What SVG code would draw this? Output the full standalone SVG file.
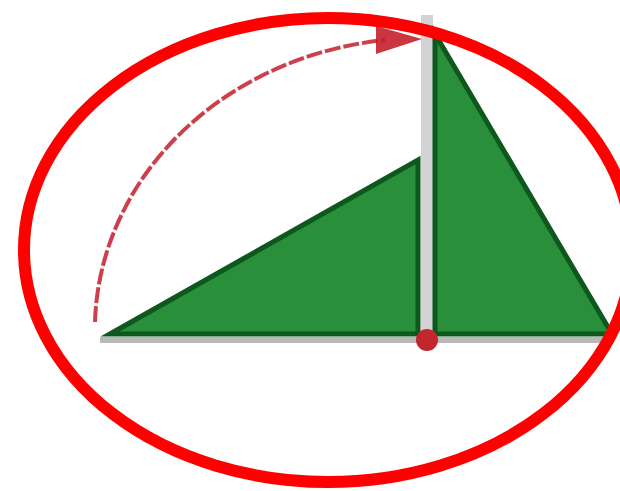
<svg xmlns="http://www.w3.org/2000/svg" width="620" height="491" viewBox="0 0 620 491">
<style>
.tri{fill:#2a8f3a;stroke:#0d581d;stroke-width:5;stroke-linejoin:miter}
.arc{fill:none;stroke:#c41f2b;stroke-width:4;stroke-dasharray:16 3;opacity:0.85}
</style>
<rect width="620" height="491" fill="#ffffff"/>
<g id="shadow">
<rect x="100" y="337" width="514" height="6" fill="#b9b9b9"/>
<rect x="421" y="15" width="12" height="322" fill="#d4d2d4"/>
</g>
<g id="left-triangle">
<polygon class="tri" points="110,334 418,160 418,334"/>
</g>
<g id="right-triangle">
<polygon class="tri" points="435,34 612,334 435,334"/>
</g>
<g id="connectors">
<path class="arc" d="M 95,322 A 328,292 0 0 1 385,40"/>
<polygon points="376,26 422,39 376,54" fill="#c41f2b" opacity="0.9"/>
</g>
<g id="pivot">
<circle cx="427" cy="340" r="11" fill="#c4262e"/>
</g>
<g id="ring">
<ellipse cx="328" cy="250" rx="304" ry="232" fill="none" stroke="#ff0000" stroke-width="12"/>
</g>
</svg>
